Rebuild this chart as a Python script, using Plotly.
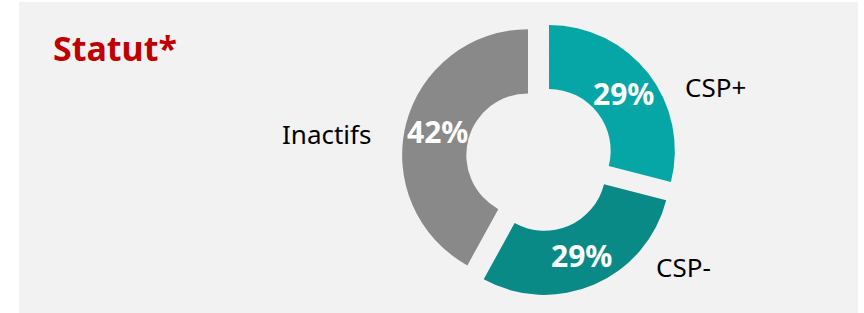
import math
import plotly.graph_objects as go

categories = ["CSP+", "CSP-", "Inactifs"]
values = [29, 29, 42]
colors = ["#07A6A6", "#0A8A87", "#898989"]
pulls = [0.095, 0.095, 0.095]

W, H = 864, 313
FONT = "Noto Sans"
HOLE = 0.49
DOM_X = [0.465, 0.784]
DOM_Y = [0.054, 0.936]

fig = go.Figure()
fig.add_trace(go.Pie(
    labels=categories,
    values=values,
    sort=False,
    direction="clockwise",
    rotation=0,
    hole=HOLE,
    pull=pulls,
    marker=dict(colors=colors, line=dict(width=0)),
    textinfo="none",
    showlegend=False,
    hoverinfo="label+percent",
    domain=dict(x=DOM_X, y=DOM_Y),
))

# percentage labels placed at the middle of each (pulled) ring slice
cx = (DOM_X[0] + DOM_X[1]) / 2 * W
cy = (1 - (DOM_Y[0] + DOM_Y[1]) / 2) * H
half = min((DOM_X[1] - DOM_X[0]) * W, (DOM_Y[1] - DOM_Y[0]) * H) / 2
r = half / (1 + max(pulls))
total = sum(values)
cum = 0
for cat, v, p in zip(categories, values, pulls):
    mid = (cum + v / 2) / total * 2 * math.pi
    cum += v
    rad = r * (1 + HOLE) / 2 + p * r
    px = cx + rad * math.sin(mid)
    py = cy - rad * math.cos(mid)
    fig.add_annotation(x=px / W, y=1 - py / H, xref="paper", yref="paper",
                       text=f"<b>{round(v / total * 100)}%</b>", showarrow=False,
                       xanchor="center", yanchor="middle",
                       font=dict(family=FONT, size=30, color="white"))

# background panel
fig.add_shape(type="rect", xref="paper", yref="paper",
              x0=19 / W, x1=858 / W, y0=0, y1=1 - 2 / H,
              fillcolor="#F2F2F2", line=dict(width=0), layer="below")

# title
fig.add_annotation(x=51 / W, y=1 - 48 / H, xref="paper", yref="paper",
                   text="<b>Statut*</b>", showarrow=False, xanchor="left", yanchor="middle",
                   font=dict(family=FONT, size=34, color="#C00000"))

# category labels
label_pos = {"CSP+": (683, 87, "left"), "CSP-": (654, 267, "left"), "Inactifs": (373, 134, "right")}
for cat in categories:
    x, y, anchor = label_pos[cat]
    fig.add_annotation(x=x / W, y=1 - y / H, xref="paper", yref="paper",
                       text=cat, showarrow=False, xanchor=anchor, yanchor="middle",
                       font=dict(family=FONT, size=26, color="black"))

fig.update_layout(
    width=W, height=H,
    margin=dict(l=0, r=0, t=0, b=0),
    paper_bgcolor="white",
    plot_bgcolor="white",
)

fig.write_html("out.html", config={"displayModeBar": False},
               post_script="document.body.style.margin='0px';")
